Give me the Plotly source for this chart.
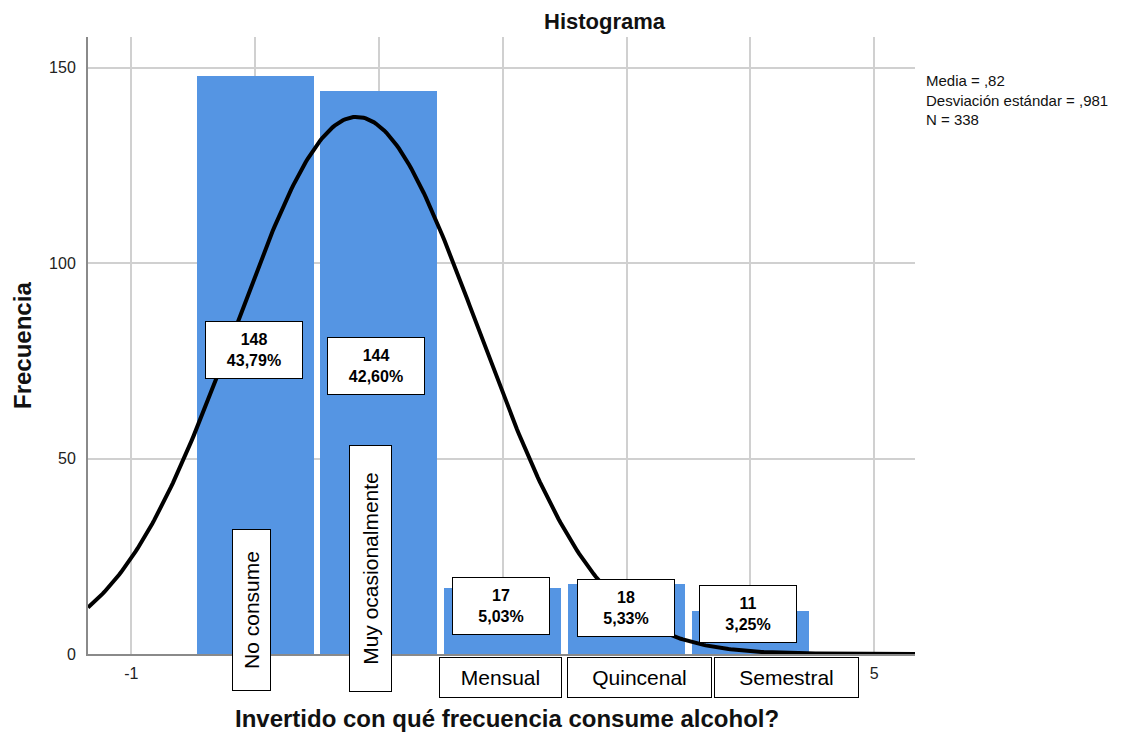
import numpy as np
import plotly.graph_objects as go

# ---- data ----
bin_centers = [0, 1, 2, 3, 4]
counts = [148, 144, 17, 18, 11]
percents = ["43,79%", "42,60%", "5,03%", "5,33%", "3,25%"]
categories = ["No consume", "Muy ocasionalmente", "Mensual", "Quincenal", "Semestral"]
mean_val = 0.82
sd_val = 0.981
n_total = 338
x_tick_vals = [-1, 0, 1, 2, 3, 4, 5]
x_tick_text = ["-1", "", "", "", "", "", "5"]
y_tick_vals = [0, 50, 100, 150]

# ---- layout geometry (page pixels; the page body has an 8px margin) ----
OFF = 8
PW, PH = 1126, 732
L, R, T, B = 88, 915, 37, 654
XR = [-1.35, 5.33]
YR = [0, 157.9]

def px2x(px):
    return XR[0] + (px - L) / (R - L) * (XR[1] - XR[0])

def py2y(py):
    return YR[0] + (B - py) / (B - T) * (YR[1] - YR[0])

def pxp(px):
    return (px - L) / (R - L)

def pyp(py):
    return (B - py) / (B - T)

bar_color = "#5595e3"
FONT = "Arial, Liberation Sans, sans-serif"

fig = go.Figure()
fig.add_trace(go.Bar(x=bin_centers, y=counts, width=0.945,
                     marker=dict(color=bar_color, line=dict(width=0)),
                     hoverinfo="skip", showlegend=False))

# fitted normal curve from the stated mean / sd / N (bin width 1)
xc = np.linspace(XR[0], XR[1], 400)
yc = n_total / (sd_val * np.sqrt(2 * np.pi)) * np.exp(-0.5 * ((xc - mean_val) / sd_val) ** 2)
fig.add_trace(go.Scatter(x=xc, y=yc, mode="lines", line=dict(color="black", width=4),
                         hoverinfo="skip", showlegend=False))

annotations = []
# value labels (pixel centers)
label_px = [(254, 350), (376, 366), (501, 606), (626, 608), (748, 614)]
for (cx, cy), c, p in zip(label_px, counts, percents):
    annotations.append(dict(x=px2x(cx), y=py2y(cy), xref="x", yref="y",
                            text=f"<b>{c}<br>{p}</b>", showarrow=False,
                            font=dict(family=FONT, size=16, color="black"),
                            bgcolor="white", bordercolor="black", borderwidth=1,
                            borderpad=0, width=96, height=56, align="center"))

# category label boxes
cat_specs = [
    dict(cx=251, cy=610, w=160, h=37, angle=-90),
    dict(cx=370, cy=569, w=245, h=41, angle=-90),
    dict(cx=500, cy=677, w=121, h=39, angle=0),
    dict(cx=639, cy=677, w=143, h=39, angle=0),
    dict(cx=786, cy=677, w=143, h=39, angle=0),
]
for spec, name in zip(cat_specs, categories):
    annotations.append(dict(x=pxp(spec["cx"]), y=pyp(spec["cy"]), xref="paper", yref="paper",
                            text=name, showarrow=False, textangle=spec["angle"],
                            font=dict(family=FONT, size=21, color="black"),
                            bgcolor="white", bordercolor="black", borderwidth=1,
                            borderpad=0, width=spec["w"], height=spec["h"],
                            xanchor="center", yanchor="middle"))

# stats text
annotations.append(dict(x=pxp(924), y=pyp(70), xref="paper", yref="paper",
                        text=f"Media = ,82<br>Desviación estándar = ,981<br>N = {n_total}",
                        showarrow=False, align="left", xanchor="left", yanchor="top",
                        font=dict(family=FONT, size=15, color="#111")))

# titles
annotations.append(dict(x=pxp(605), y=pyp(8), xref="paper", yref="paper",
                        text="<b>Histograma</b>", showarrow=False,
                        font=dict(family=FONT, size=22, color="#111"),
                        xanchor="center", yanchor="top", borderpad=0))
annotations.append(dict(x=pxp(22), y=pyp(346), xref="paper", yref="paper",
                        text="<b>Frecuencia</b>", showarrow=False, textangle=-90,
                        font=dict(family=FONT, size=24, color="#111"),
                        xanchor="center", yanchor="middle"))
annotations.append(dict(x=pxp(507), y=pyp(718), xref="paper", yref="paper",
                        text="<b>Invertido con qué frecuencia consume alcohol?</b>", showarrow=False,
                        font=dict(family=FONT, size=24, color="#111"),
                        xanchor="center", yanchor="middle"))

axis_font = dict(family=FONT, size=16, color="#222")
fig.update_layout(
    width=PW - OFF, height=PH - OFF,
    margin=dict(l=L - OFF, r=PW - R, t=T - OFF, b=PH - B, autoexpand=False),
    paper_bgcolor="white", plot_bgcolor="white",
    annotations=annotations,
    xaxis=dict(range=XR, tickvals=x_tick_vals, ticktext=x_tick_text, showgrid=True,
               gridcolor="#d0d0d0", gridwidth=1.5, zeroline=False, showline=True,
               linecolor="#8a8a8a", linewidth=2, ticks="", tickfont=axis_font, ticklabelstandoff=4),
    yaxis=dict(range=YR, tickvals=y_tick_vals, showgrid=True, gridcolor="#d0d0d0", gridwidth=1.5,
               zeroline=False, showline=True, linecolor="#8a8a8a", linewidth=2, ticks="",
               tickfont=axis_font, ticklabelstandoff=7),
    bargap=0,
)

fig.write_html("out.html")
